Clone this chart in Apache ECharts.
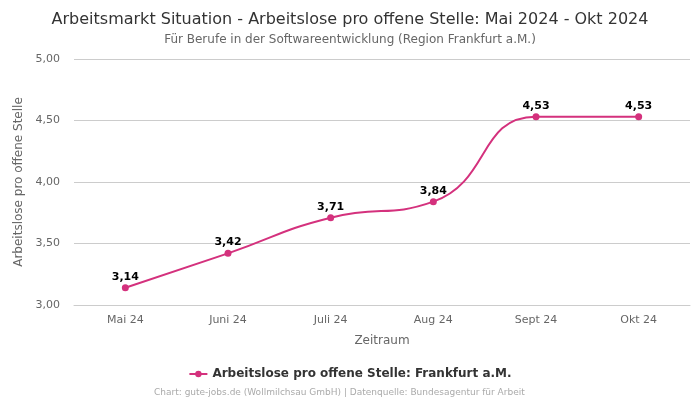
<!DOCTYPE html>
<html><head><meta charset="utf-8">
<script src="https://cdn.jsdelivr.net/npm/echarts@6/dist/echarts.min.js"></script>
<style>html,body{margin:0;padding:0;background:#fff}#c{width:700px;height:400px}</style>
</head><body><div id="c"></div>
<script>
const categories = ['Mai 24','Juni 24','Juli 24','Aug 24','Sept 24','Okt 24'];
const values = [3.14, 3.42, 3.71, 3.84, 4.53, 4.53];
const seriesName = 'Arbeitslose pro offene Stelle: Frankfurt a.M.';
const FONT = 'DejaVu Sans';
const chart = echarts.init(document.getElementById('c'), null, {renderer:'canvas'});
const fmt = v => Number(v).toFixed(2).replace('.', ',');
chart.setOption({
  animation:false,
  textStyle:{fontFamily:FONT},
  title:[
    {text:'Arbeitsmarkt Situation - Arbeitslose pro offene Stelle: Mai 2024 - Okt 2024', left:'center', top:7,
     textStyle:{fontFamily:FONT,fontSize:16,fontWeight:'normal',color:'#333'}},
    {text:'Für Berufe in der Softwareentwicklung (Region Frankfurt a.M.)', left:'center', top:29,
     textStyle:{fontFamily:FONT,fontSize:12,fontWeight:'normal',color:'#666'}},
    {text:'Chart: gute-jobs.de (Wollmilchsau GmbH) | Datenquelle: Bundesagentur für Arbeit', left:149, top:383,
     textStyle:{fontFamily:FONT,fontSize:9,fontWeight:'normal',color:'#aaa'}}
  ],
  legend:{data:[seriesName], bottom:15, left:'center', itemWidth:18, itemHeight:8,
    textStyle:{fontFamily:FONT,fontSize:12,fontWeight:'bold',color:'#333'}},
  grid:{left:74,right:10,top:59,bottom:95},
  xAxis:{type:'category', data:categories, boundaryGap:true,
    name:'Zeitraum', nameLocation:'middle', nameGap:30,
    nameTextStyle:{fontFamily:FONT,fontSize:12,color:'#666'},
    axisLine:{show:true,lineStyle:{color:'#ccc'}}, axisTick:{show:false},
    axisLabel:{fontFamily:FONT,fontSize:11,color:'#666',margin:10}},
  yAxis:{type:'value', min:3, max:5, interval:0.5,
    name:'Arbeitslose pro offene Stelle', nameLocation:'middle', nameGap:43,
    nameTextStyle:{fontFamily:FONT,fontSize:12,color:'#666'},
    axisLabel:{fontFamily:FONT,fontSize:11,color:'#666',formatter:fmt,margin:14},
    splitLine:{lineStyle:{color:'#ccc'}}, axisLine:{show:false}, axisTick:{show:false}},
  series:[{name:seriesName, type:'line', data:values, smooth:true,
    symbol:'circle', symbolSize:7,
    lineStyle:{width:2,color:'#d4317d'}, itemStyle:{color:'#d4317d'},
    label:{show:true, position:'top', formatter:p=>fmt(p.value), fontFamily:FONT,
      fontSize:11, fontWeight:'bold', color:'#000', distance:2}}]
});
</script></body></html>
